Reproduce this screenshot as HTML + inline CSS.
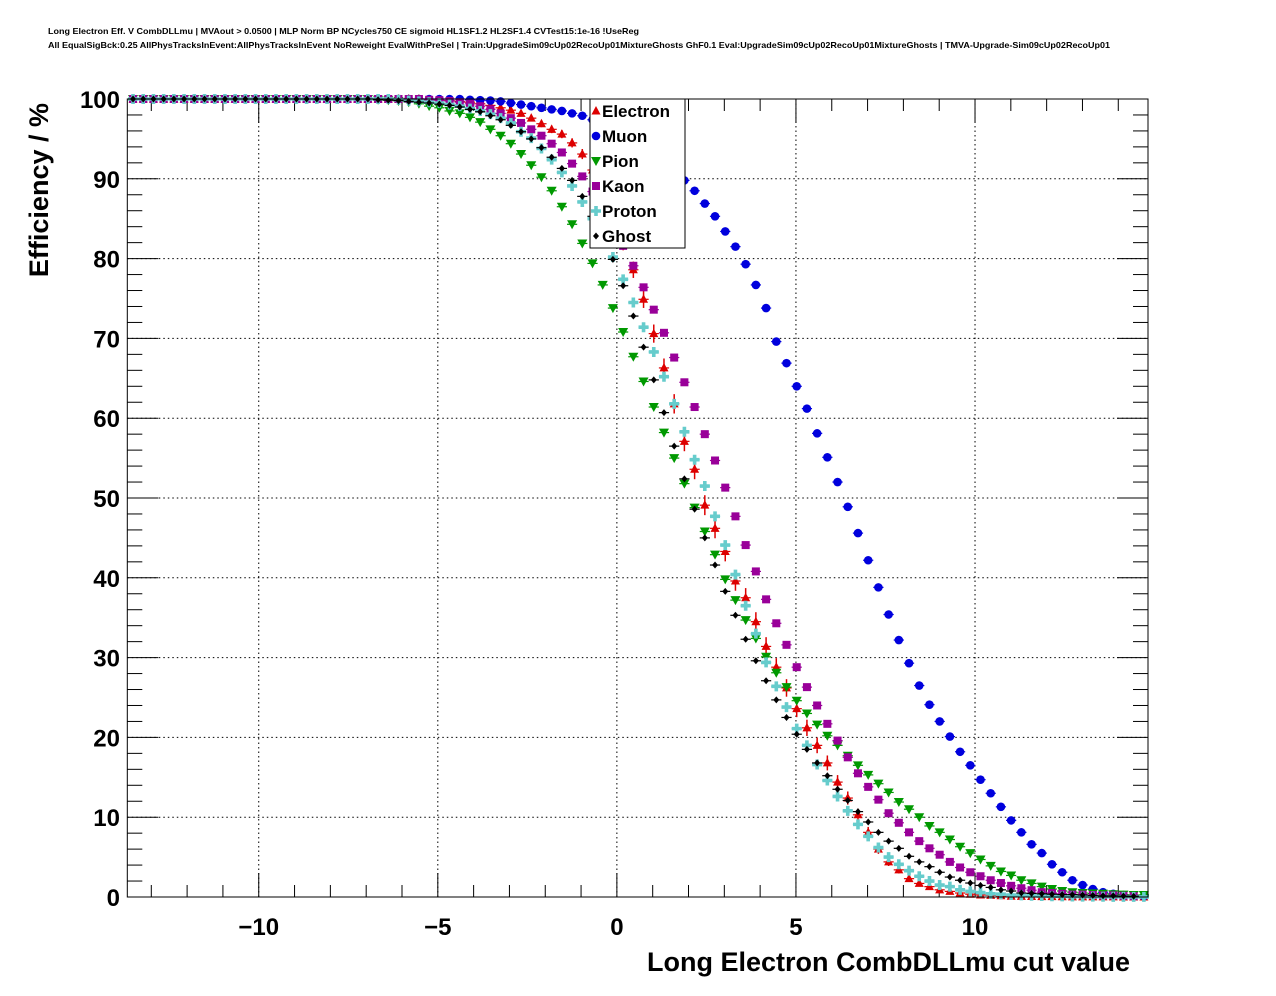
<!DOCTYPE html>
<html><head><meta charset="utf-8"><style>
html,body{margin:0;padding:0;background:#fff;}
svg{display:block;font-family:"Liberation Sans",Arial,sans-serif;}
</style></head><body>
<svg id="chart" width="1276" height="996" viewBox="0 0 1276 996" xmlns="http://www.w3.org/2000/svg">
<rect width="1276" height="996" fill="#fff"/>
<text x="48" y="34" font-size="8.5" font-weight="bold" textLength="591" lengthAdjust="spacingAndGlyphs">Long Electron Eff. V CombDLLmu | MVAout &gt; 0.0500 | MLP Norm BP NCycles750 CE sigmoid HL1SF1.2 HL2SF1.4 CVTest15:1e-16 !UseReg</text>
<text x="48" y="48" font-size="8.5" font-weight="bold" textLength="1062" lengthAdjust="spacingAndGlyphs">All EqualSigBck:0.25 AllPhysTracksInEvent:AllPhysTracksInEvent NoReweight EvalWithPreSel | Train:UpgradeSim09cUp02RecoUp01MixtureGhosts GhF0.1 Eval:UpgradeSim09cUp02RecoUp01MixtureGhosts | TMVA-Upgrade-Sim09cUp02RecoUp01</text>
<g id="grid"></g>
<g id="axes"></g>
<g id="marks"></g>
<rect x="127.3" y="99" width="1020.7" height="798" fill="none" stroke="#000" stroke-width="1"/>
<text x="0" y="0" transform="translate(48,103) rotate(-90)" font-size="27" font-weight="bold" text-anchor="end">Efficiency / %</text>
<text x="1130" y="971" font-size="27" font-weight="bold" text-anchor="end">Long Electron CombDLLmu cut value</text>
<g id="legend"></g>
</svg>
<script>
const NS="http://www.w3.org/2000/svg";
// ---- data ----
const xStart=-13.51, xStep=0.2851;
const seriesNames=["Electron","Muon","Pion","Kaon","Proton","Ghost"];
function pad(n,v){return new Array(n).fill(v);}
const electron=pad(29,100).concat([99.9,99.85,99.8,99.7,99.6,99.4,99.2,98.9,98.6,98.2,97.6,96.9,96.2,95.6,94.5,93.1,91.1,88.4,85.3,82.0,78.6,74.9,70.6,66.3,61.8,57.1,53.6,49.1,46.2,43.3,39.6,37.5,34.5,31.4,28.8,26.2,23.6,21.2,19.0,16.8,14.4,12.4,10.3,8.1,6.0,4.4,3.4,2.3,1.7,1.3,0.9,0.7,0.5,0.35,0.25,0.2,0.15,0.1,0.08,0.06,0.05,0.04,0.03,0.02,0.02,0.01,0.01,0.01,0.0,0.0,0.0]);
const muon=pad(33,100).concat([99.9,99.85,99.8,99.7,99.5,99.3,99.1,98.9,98.7,98.5,98.2,97.9,97.4,96.8,96.1,95.3,94.4,93.4,92.4,91.5,90.6,89.8,88.5,86.9,85.3,83.4,81.5,79.3,76.7,73.8,69.6,66.9,64.0,61.2,58.1,55.1,52.0,48.9,45.6,42.2,38.8,35.4,32.2,29.3,26.5,24.1,22.0,20.1,18.2,16.5,14.7,13.0,11.3,9.6,8.1,6.6,5.5,4.1,3.1,2.1,1.5,1.0,0.6,0.4,0.25,0.15,0.1]);
const pion=pad(24,100).concat([99.9,99.85,99.75,99.6,99.4,99.1,98.9,98.5,98.2,97.7,97.1,96.2,95.4,94.4,93.1,91.7,90.2,88.5,86.5,84.3,81.9,79.4,76.7,73.8,70.8,67.7,64.6,61.4,58.2,55.0,51.8,48.8,45.8,42.9,39.8,37.2,34.7,32.4,30.1,28.1,26.3,24.6,23.0,21.6,20.2,19.0,17.7,16.5,15.3,14.2,13.1,11.9,11.0,10.0,8.9,8.1,7.2,6.3,5.5,4.7,3.9,3.2,2.7,2.1,1.7,1.3,1.0,0.75,0.6,0.5,0.45,0.4,0.35,0.3,0.25,0.25]);
const kaon=pad(29,100).concat([99.9,99.85,99.75,99.6,99.4,99.1,98.7,98.2,97.6,97.0,96.2,95.4,94.4,93.3,91.9,90.3,88.4,86.3,84.0,81.6,79.1,76.4,73.6,70.7,67.6,64.5,61.4,58.0,54.7,51.3,47.7,44.1,40.8,37.3,34.3,31.6,28.8,26.3,24.0,21.7,19.6,17.5,15.5,13.8,12.2,10.5,9.3,8.1,7.0,6.1,5.3,4.4,3.7,3.1,2.6,2.1,1.75,1.4,1.1,0.85,0.6,0.5,0.4,0.3,0.3,0.25,0.2,0.2,0.15,0.1]);
const proton=pad(26,100).concat([99.9,99.8,99.7,99.6,99.5,99.3,99.1,98.8,98.5,98.1,97.6,97.0,95.9,95.1,93.8,92.4,90.8,89.1,87.1,85.0,82.7,80.2,77.4,74.5,71.4,68.3,65.2,61.8,58.3,54.8,51.5,47.7,44.1,40.4,36.5,33.0,29.4,26.4,23.8,21.1,19.0,16.6,14.6,12.6,10.8,9.1,7.6,6.2,5.0,4.1,3.3,2.6,2.0,1.5,1.3,0.9,0.7,0.55,0.4,0.35,0.25,0.2,0.15,0.12,0.1,0.08,0.06,0.05,0.04,0.03,0.02,0.02,0.01,0.01]);
const ghost=pad(24,100).concat([99.9,99.85,99.8,99.7,99.6,99.5,99.35,99.2,99.0,98.7,98.4,97.9,97.4,96.7,95.9,95.0,93.9,92.7,91.3,89.8,87.8,85.3,82.7,79.9,76.6,72.8,68.9,64.8,60.7,56.5,52.4,48.6,45.0,41.6,38.3,35.3,32.3,29.6,27.1,24.7,22.5,20.4,18.5,16.8,15.2,13.5,12.1,10.7,9.4,8.1,7.0,6.1,5.1,4.4,3.8,3.1,2.5,2.1,1.75,1.45,1.2,0.9,0.75,0.5,0.45,0.4,0.35,0.3,0.3,0.25,0.2,0.15,0.15,0.12,0.1]);
const xTicks=[-10,-5,0,5,10];
const xTickLabels=["\u221210","\u22125","0","5","10"];
const yTicks=[0,10,20,30,40,50,60,70,80,90,100];
// ---- scales ----
const X0=127.3,X1=1148,Y0=897,Y1=99;
const xMin=-13.67, xMax=14.83;
function sx(v){return X0+(v-xMin)/(xMax-xMin)*(X1-X0);}
function sy(v){return Y0-(v/100)*(Y0-Y1);}
function mk(tag,attrs,parent){const e=document.createElementNS(NS,tag);for(const k in attrs)e.setAttribute(k,attrs[k]);parent.appendChild(e);return e;}
const grid=document.getElementById('grid'),axes=document.getElementById('axes'),marks=document.getElementById('marks'),legend=document.getElementById('legend');
// grid
xTicks.forEach(t=>{const l=mk('line',{x1:sx(t),x2:sx(t),y1:Y1,y2:Y0,stroke:'#000','stroke-dasharray':'1.5,3','stroke-width':1},grid);

});
yTicks.forEach(t=>{if(t===0||t===100)return;const l=mk('line',{x1:X0,x2:X1,y1:sy(t),y2:sy(t),stroke:'#000','stroke-dasharray':'1.5,3','stroke-width':1},grid);

});
// x ticks
for(let v=-13;v<=14;v++){const maj=(v%5===0);const L=maj?24:12;const x=sx(v);
const a=mk('line',{x1:x,x2:x,y1:Y0,y2:Y0-L,stroke:'#000'},axes);


const b=mk('line',{x1:x,x2:x,y1:Y1,y2:Y1+L,stroke:'#000'},axes);

}
xTicks.forEach((t,i)=>{const e=mk('text',{x:sx(t),y:935,'font-size':24,'font-weight':'bold','text-anchor':'middle'},axes);e.textContent=xTickLabels[i];

});
// y ticks
for(let v=0;v<=100;v+=2){const maj=(v%10===0);const L=maj?31:15;const y=sy(v);
const a=mk('line',{x1:X0,x2:X0+L,y1:y,y2:y,stroke:'#000'},axes);


const b=mk('line',{x1:X1,x2:X1-L,y1:y,y2:y,stroke:'#000'},axes);

}
yTicks.forEach(t=>{const e=mk('text',{x:120,y:sy(t)+9,'font-size':24,'font-weight':'bold','text-anchor':'end'},axes);e.textContent=String(t);

});
// markers
const colors={Electron:'#dd0000',Muon:'#0000dd',Pion:'#009900',Kaon:'#990099',Proton:'#66cccc',Ghost:'#000000'};
function marker(name,cx,cy,parent){const c=colors[name];let e;
if(name==='Electron'){e=mk('polygon',{points:`${cx},${cy-5} ${cx-4.5},${cy+3.5} ${cx+4.5},${cy+3.5}`,fill:c},parent);}
else if(name==='Muon'){e=mk('circle',{cx:cx,cy:cy,r:4.3,fill:c},parent);}
else if(name==='Pion'){e=mk('polygon',{points:`${cx-5},${cy-4} ${cx+5},${cy-4} ${cx},${cy+5}`,fill:c},parent);}
else if(name==='Kaon'){e=mk('rect',{x:cx-4,y:cy-4,width:8,height:8,fill:c},parent);}
else if(name==='Proton'){e=mk('path',{d:`M${cx-5},${cy-1.8}h3.2v-3.2h3.6v3.2h3.2v3.6h-3.2v3.2h-3.6v-3.2h-3.2z`,fill:c},parent);}
else {e=mk('polygon',{points:`${cx},${cy-3.5} ${cx+3},${cy} ${cx},${cy+3.5} ${cx-3},${cy}`,fill:c},parent);}
return e;}
const allSeries=[electron,muon,pion,kaon,proton,ghost];
allSeries.forEach((arr,si)=>{const name=seriesNames[si];const g=mk('g',{},marks);


arr.forEach((v,i)=>{const xc=xStart+xStep*i;const cx=sx(xc),cy=sy(v);
const h=mk('line',{x1:sx(xc-xStep/2),x2:sx(xc+xStep/2),y1:cy,y2:cy,stroke:colors[name],'stroke-width':1.2},g);


if(name==='Electron'&&v<99.9&&v>0.5){const err=0.025*Math.sqrt(v*(100-v));
const ve=mk('line',{x1:cx,x2:cx,y1:sy(v+err),y2:sy(v-err),stroke:colors[name],'stroke-width':1.5},g);

}
const m=marker(name,cx,cy,g);

});});
// legend
const lb=mk('rect',{x:590,y:99,width:95,height:149,fill:'#fff',stroke:'#000','stroke-width':1},legend);


seriesNames.forEach((n,i)=>{const y=111+25*i;
const m=marker(n,596,y,legend);


const t=mk('text',{x:602,y:y+6,'font-size':17,'font-weight':'bold'},legend);t.textContent=n;

});
</script>
</body></html>
